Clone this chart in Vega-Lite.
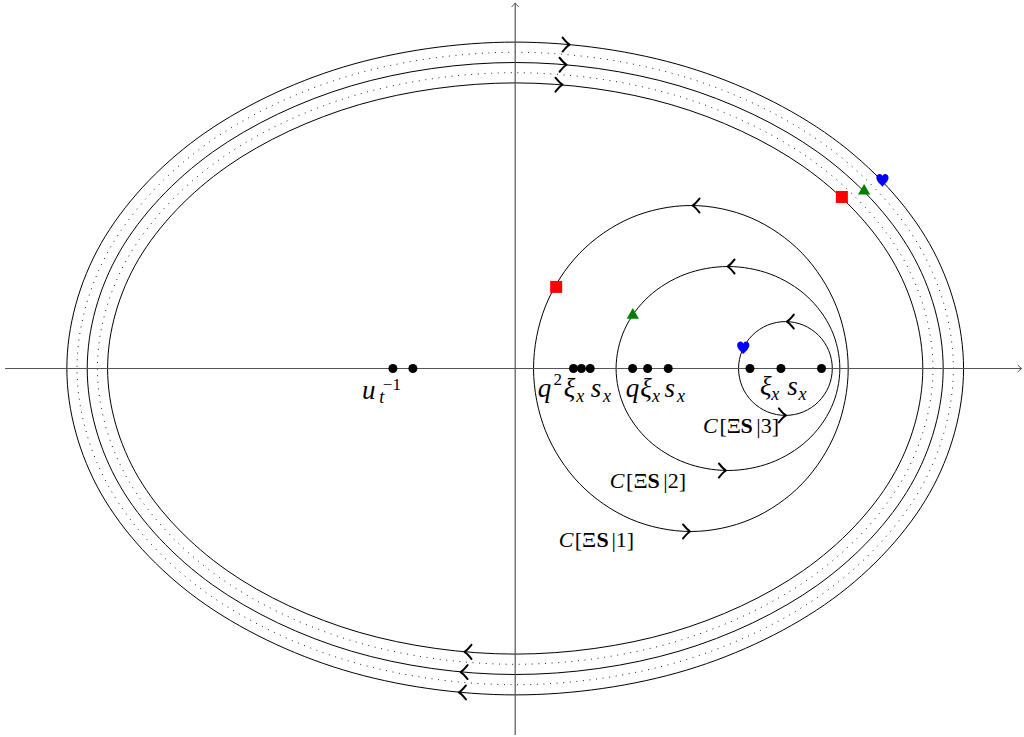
{
  "$schema": "https://vega.github.io/schema/vega-lite/v6.json",
  "width": 1024,
  "height": 737,
  "autosize": {"type": "fit", "contains": "padding"},
  "padding": 0,
  "background": "white",
  "config": {"view": {"stroke": null}},
  "datasets": {
    "contours": [
      {"c": "e1", "i": 0, "x": 20, "y": 0}, {"c": "e1", "i": 1, "x": 18.478, "y": 5.358}, {"c": "e1", "i": 2, "x": 14.142, "y": 9.9}, {"c": "e1", "i": 3, "x": 7.654, "y": 12.934},
      {"c": "e1", "i": 4, "x": 0, "y": 14}, {"c": "e1", "i": 5, "x": -7.654, "y": 12.934}, {"c": "e1", "i": 6, "x": -14.142, "y": 9.9}, {"c": "e1", "i": 7, "x": -18.478, "y": 5.358},
      {"c": "e1", "i": 8, "x": -20, "y": 0}, {"c": "e1", "i": 9, "x": -18.478, "y": -5.358}, {"c": "e1", "i": 10, "x": -14.142, "y": -9.9}, {"c": "e1", "i": 11, "x": -7.654, "y": -12.934},
      {"c": "e1", "i": 12, "x": 0, "y": -14}, {"c": "e1", "i": 13, "x": 7.654, "y": -12.934}, {"c": "e1", "i": 14, "x": 14.142, "y": -9.9}, {"c": "e1", "i": 15, "x": 18.478, "y": -5.358},
      {"c": "e2", "i": 0, "x": 21, "y": 0}, {"c": "e2", "i": 1, "x": 19.401, "y": 5.74}, {"c": "e2", "i": 2, "x": 14.849, "y": 10.607}, {"c": "e2", "i": 3, "x": 8.036, "y": 13.858},
      {"c": "e2", "i": 4, "x": 0, "y": 15}, {"c": "e2", "i": 5, "x": -8.036, "y": 13.858}, {"c": "e2", "i": 6, "x": -14.849, "y": 10.607}, {"c": "e2", "i": 7, "x": -19.401, "y": 5.74},
      {"c": "e2", "i": 8, "x": -21, "y": 0}, {"c": "e2", "i": 9, "x": -19.401, "y": -5.74}, {"c": "e2", "i": 10, "x": -14.849, "y": -10.607}, {"c": "e2", "i": 11, "x": -8.036, "y": -13.858},
      {"c": "e2", "i": 12, "x": 0, "y": -15}, {"c": "e2", "i": 13, "x": 8.036, "y": -13.858}, {"c": "e2", "i": 14, "x": 14.849, "y": -10.607}, {"c": "e2", "i": 15, "x": 19.401, "y": -5.74},
      {"c": "e3", "i": 0, "x": 22, "y": 0}, {"c": "e3", "i": 1, "x": 20.325, "y": 6.123}, {"c": "e3", "i": 2, "x": 15.556, "y": 11.314}, {"c": "e3", "i": 3, "x": 8.419, "y": 14.782},
      {"c": "e3", "i": 4, "x": 0, "y": 16}, {"c": "e3", "i": 5, "x": -8.419, "y": 14.782}, {"c": "e3", "i": 6, "x": -15.556, "y": 11.314}, {"c": "e3", "i": 7, "x": -20.325, "y": 6.123},
      {"c": "e3", "i": 8, "x": -22, "y": 0}, {"c": "e3", "i": 9, "x": -20.325, "y": -6.123}, {"c": "e3", "i": 10, "x": -15.556, "y": -11.314}, {"c": "e3", "i": 11, "x": -8.419, "y": -14.782},
      {"c": "e3", "i": 12, "x": 0, "y": -16}, {"c": "e3", "i": 13, "x": 8.419, "y": -14.782}, {"c": "e3", "i": 14, "x": 15.556, "y": -11.314}, {"c": "e3", "i": 15, "x": 20.325, "y": -6.123},
      {"c": "c1", "i": 0, "x": 16.34, "y": 0}, {"c": "c1", "i": 1, "x": 15.752, "y": 3.058}, {"c": "c1", "i": 2, "x": 14.079, "y": 5.65}, {"c": "c1", "i": 3, "x": 11.574, "y": 7.382},
      {"c": "c1", "i": 4, "x": 8.62, "y": 7.99}, {"c": "c1", "i": 5, "x": 5.666, "y": 7.382}, {"c": "c1", "i": 6, "x": 3.161, "y": 5.65}, {"c": "c1", "i": 7, "x": 1.488, "y": 3.058},
      {"c": "c1", "i": 8, "x": 0.9, "y": 0}, {"c": "c1", "i": 9, "x": 1.488, "y": -3.058}, {"c": "c1", "i": 10, "x": 3.161, "y": -5.65}, {"c": "c1", "i": 11, "x": 5.666, "y": -7.382},
      {"c": "c1", "i": 12, "x": 8.62, "y": -7.99}, {"c": "c1", "i": 13, "x": 11.574, "y": -7.382}, {"c": "c1", "i": 14, "x": 14.079, "y": -5.65}, {"c": "c1", "i": 15, "x": 15.752, "y": -3.058},
      {"c": "c2", "i": 0, "x": 15.93, "y": 0}, {"c": "c2", "i": 1, "x": 15.512, "y": 1.913}, {"c": "c2", "i": 2, "x": 14.322, "y": 3.536}, {"c": "c2", "i": 3, "x": 12.541, "y": 4.619},
      {"c": "c2", "i": 4, "x": 10.44, "y": 5}, {"c": "c2", "i": 5, "x": 8.339, "y": 4.619}, {"c": "c2", "i": 6, "x": 6.558, "y": 3.536}, {"c": "c2", "i": 7, "x": 5.368, "y": 1.913},
      {"c": "c2", "i": 8, "x": 4.95, "y": 0}, {"c": "c2", "i": 9, "x": 5.368, "y": -1.913}, {"c": "c2", "i": 10, "x": 6.558, "y": -3.536}, {"c": "c2", "i": 11, "x": 8.339, "y": -4.619},
      {"c": "c2", "i": 12, "x": 10.44, "y": -5}, {"c": "c2", "i": 13, "x": 12.541, "y": -4.619}, {"c": "c2", "i": 14, "x": 14.322, "y": -3.536}, {"c": "c2", "i": 15, "x": 15.512, "y": -1.913},
      {"c": "c3", "i": 0, "x": 15.56, "y": 0}, {"c": "c3", "i": 1, "x": 15.385, "y": 0.88}, {"c": "c3", "i": 2, "x": 14.886, "y": 1.626}, {"c": "c3", "i": 3, "x": 14.14, "y": 2.125},
      {"c": "c3", "i": 4, "x": 13.26, "y": 2.3}, {"c": "c3", "i": 5, "x": 12.38, "y": 2.125}, {"c": "c3", "i": 6, "x": 11.634, "y": 1.626}, {"c": "c3", "i": 7, "x": 11.135, "y": 0.88},
      {"c": "c3", "i": 8, "x": 10.96, "y": 0}, {"c": "c3", "i": 9, "x": 11.135, "y": -0.88}, {"c": "c3", "i": 10, "x": 11.634, "y": -1.626}, {"c": "c3", "i": 11, "x": 12.38, "y": -2.125},
      {"c": "c3", "i": 12, "x": 13.26, "y": -2.3}, {"c": "c3", "i": 13, "x": 14.14, "y": -2.125}, {"c": "c3", "i": 14, "x": 14.886, "y": -1.626}, {"c": "c3", "i": 15, "x": 15.385, "y": -0.88}
    ],
    "guides": [
      {"c": "d1", "i": 0, "x": 20.5, "y": 0}, {"c": "d1", "i": 1, "x": 18.94, "y": 5.549}, {"c": "d1", "i": 2, "x": 14.496, "y": 10.253}, {"c": "d1", "i": 3, "x": 7.845, "y": 13.396},
      {"c": "d1", "i": 4, "x": 0, "y": 14.5}, {"c": "d1", "i": 5, "x": -7.845, "y": 13.396}, {"c": "d1", "i": 6, "x": -14.496, "y": 10.253}, {"c": "d1", "i": 7, "x": -18.94, "y": 5.549},
      {"c": "d1", "i": 8, "x": -20.5, "y": 0}, {"c": "d1", "i": 9, "x": -18.94, "y": -5.549}, {"c": "d1", "i": 10, "x": -14.496, "y": -10.253}, {"c": "d1", "i": 11, "x": -7.845, "y": -13.396},
      {"c": "d1", "i": 12, "x": 0, "y": -14.5}, {"c": "d1", "i": 13, "x": 7.845, "y": -13.396}, {"c": "d1", "i": 14, "x": 14.496, "y": -10.253}, {"c": "d1", "i": 15, "x": 18.94, "y": -5.549},
      {"c": "d2", "i": 0, "x": 21.5, "y": 0}, {"c": "d2", "i": 1, "x": 19.863, "y": 5.932}, {"c": "d2", "i": 2, "x": 15.203, "y": 10.96}, {"c": "d2", "i": 3, "x": 8.228, "y": 14.32},
      {"c": "d2", "i": 4, "x": 0, "y": 15.5}, {"c": "d2", "i": 5, "x": -8.228, "y": 14.32}, {"c": "d2", "i": 6, "x": -15.203, "y": 10.96}, {"c": "d2", "i": 7, "x": -19.863, "y": 5.932},
      {"c": "d2", "i": 8, "x": -21.5, "y": 0}, {"c": "d2", "i": 9, "x": -19.863, "y": -5.932}, {"c": "d2", "i": 10, "x": -15.203, "y": -10.96}, {"c": "d2", "i": 11, "x": -8.228, "y": -14.32},
      {"c": "d2", "i": 12, "x": 0, "y": -15.5}, {"c": "d2", "i": 13, "x": 8.228, "y": -14.32}, {"c": "d2", "i": 14, "x": 15.203, "y": -10.96}, {"c": "d2", "i": 15, "x": 19.863, "y": -5.932}
    ],
    "axes": [
      {"x": -25.03, "x2": 24.85, "y": 0, "y2": 0},
      {"x": 0, "x2": 0, "y": -17.97, "y2": 17.92}
    ],
    "axisTipRight": [{"x": 24.85, "y": 0}],
    "axisTipUp": [{"x": 0, "y": 17.92}],
    "poles": [
      {"x": -6.0, "y": 0}, {"x": -5.02, "y": 0},
      {"x": 2.86, "y": 0}, {"x": 3.25, "y": 0}, {"x": 3.68, "y": 0},
      {"x": 5.76, "y": 0}, {"x": 6.5, "y": 0}, {"x": 7.51, "y": 0},
      {"x": 11.52, "y": 0}, {"x": 13.04, "y": 0}, {"x": 15.03, "y": 0}
    ],
    "arrowsRight": [
      {"x": 2.32, "y": 13.91}, {"x": 2.52, "y": 14.89}, {"x": 2.67, "y": 15.88},
      {"x": 8.58, "y": -7.99}, {"x": 10.34, "y": -5.0}, {"x": 13.28, "y": -2.3}
    ],
    "arrowsLeft": [
      {"x": -2.49, "y": -13.89}, {"x": -2.68, "y": -14.88}, {"x": -2.76, "y": -15.88},
      {"x": 8.7, "y": 7.99}, {"x": 10.42, "y": 5.0}, {"x": 13.33, "y": 2.3}
    ],
    "squares": [{"x": 16.03, "y": 8.41}, {"x": 2.01, "y": 4.0}],
    "triangles": [{"x": 17.12, "y": 8.79}, {"x": 5.77, "y": 2.7}],
    "hearts": [{"x": 18.02, "y": 9.23}, {"x": 11.19, "y": 1.02}],
    "mathMain": [
      {"x": -7.19, "y": -1.51, "t": "u"},
      {"x": 1.44, "y": -1.38, "t": "q"}, {"x": 2.66, "y": -1.38, "t": "ξ"}, {"x": 3.97, "y": -1.38, "t": "s"},
      {"x": 5.76, "y": -1.38, "t": "q"}, {"x": 6.42, "y": -1.38, "t": "ξ"}, {"x": 7.58, "y": -1.38, "t": "s"},
      {"x": 12.3, "y": -1.3, "t": "ξ"}, {"x": 13.61, "y": -1.3, "t": "s"}
    ],
    "mathSub": [
      {"x": -6.55, "y": -1.71, "t": "t"},
      {"x": 3.19, "y": -1.63, "t": "x"}, {"x": 4.51, "y": -1.63, "t": "x"},
      {"x": 6.91, "y": -1.63, "t": "x"}, {"x": 8.14, "y": -1.63, "t": "x"},
      {"x": 12.76, "y": -1.54, "t": "x"}, {"x": 14.1, "y": -1.54, "t": "x"}
    ],
    "mathSup": [
      {"x": -6.05, "y": -1.05, "t": "−1"},
      {"x": 2.09, "y": -0.81, "t": "2"}
    ],
    "capItalic": [
      {"x": 9.58, "y": -3.18, "t": "C"}, {"x": 5.0, "y": -5.87, "t": "C"}, {"x": 2.5, "y": -8.74, "t": "C"}
    ],
    "capOpen": [
      {"x": 10.02, "y": -3.18, "t": "[Ξ"}, {"x": 5.44, "y": -5.87, "t": "[Ξ"}, {"x": 2.92, "y": -8.74, "t": "[Ξ"}
    ],
    "capBold": [
      {"x": 11.35, "y": -3.18, "t": "S"}, {"x": 6.79, "y": -5.87, "t": "S"}, {"x": 4.29, "y": -8.74, "t": "S"}
    ],
    "capClose": [
      {"x": 11.83, "y": -3.18, "t": "|3]"}, {"x": 7.27, "y": -5.87, "t": "|2]"}, {"x": 4.72, "y": -8.74, "t": "|1]"}
    ]
  },
  "encoding": {
    "x": {"field": "x", "type": "quantitative", "scale": {"domain": [-25.28, 24.917], "nice": false, "zero": false}, "axis": null},
    "y": {"field": "y", "type": "quantitative", "scale": {"domain": [-18.064, 18.064], "nice": false, "zero": false}, "axis": null}
  },
  "layer": [
    {
      "data": {"name": "guides"},
      "mark": {"type": "line", "interpolate": "cardinal-closed", "color": "#222", "strokeWidth": 1, "strokeDash": [1, 5.6]},
      "encoding": {"detail": {"field": "c"}, "order": {"field": "i", "type": "quantitative"}}
    },
    {
      "data": {"name": "contours"},
      "mark": {"type": "line", "interpolate": "cardinal-closed", "color": "black", "strokeWidth": 1},
      "encoding": {"detail": {"field": "c"}, "order": {"field": "i", "type": "quantitative"}}
    },
    {
      "data": {"name": "axes"},
      "mark": {"type": "rule", "color": "#555", "strokeWidth": 1.2},
      "encoding": {"x2": {"field": "x2"}, "y2": {"field": "y2"}}
    },
    {
      "data": {"name": "axisTipRight"},
      "mark": {"type": "point", "filled": false, "color": "#555", "strokeWidth": 1, "size": 64, "opacity": 1,
        "shape": "M -1 -0.9 Q -0.3 -0.2 0 0 Q -0.3 0.2 -1 0.9"}
    },
    {
      "data": {"name": "axisTipUp"},
      "mark": {"type": "point", "filled": false, "color": "#555", "strokeWidth": 1, "size": 64, "opacity": 1,
        "shape": "M -0.9 1 Q -0.2 0.3 0 0 Q 0.2 0.3 0.9 1"}
    },
    {
      "data": {"name": "poles"},
      "mark": {"type": "point", "shape": "circle", "filled": true, "color": "black", "size": 81, "opacity": 1}
    },
    {
      "data": {"name": "arrowsRight"},
      "mark": {"type": "point", "filled": false, "color": "black", "strokeWidth": 2, "size": 196, "opacity": 1, "strokeCap": "round", "strokeJoin": "round",
        "shape": "M -1 -1 Q -0.35 -0.2 0 0 Q -0.35 0.2 -1 1"}
    },
    {
      "data": {"name": "arrowsLeft"},
      "mark": {"type": "point", "filled": false, "color": "black", "strokeWidth": 2, "size": 196, "opacity": 1, "strokeCap": "round", "strokeJoin": "round",
        "shape": "M 1 -1 Q 0.35 -0.2 0 0 Q 0.35 0.2 1 1"}
    },
    {
      "data": {"name": "squares"},
      "mark": {"type": "point", "shape": "square", "filled": true, "color": "#ff0000", "size": 144, "opacity": 1}
    },
    {
      "data": {"name": "triangles"},
      "mark": {"type": "point", "shape": "triangle-up", "filled": true, "color": "#008000", "size": 150, "opacity": 1}
    },
    {
      "data": {"name": "hearts"},
      "mark": {
        "type": "point", "filled": true, "color": "#0000ff", "size": 150, "opacity": 1,
        "shape": "M 0 1.05 C -0.3 0.65 -1 0.2 -1 -0.4 C -1 -0.8 -0.7 -1 -0.45 -1 C -0.2 -1 0 -0.8 0 -0.6 C 0 -0.8 0.2 -1 0.45 -1 C 0.7 -1 1 -0.8 1 -0.4 C 1 0.2 0.3 0.65 0 1.05 Z"
      }
    },
    {
      "data": {"name": "mathMain"},
      "mark": {"type": "text", "font": "Liberation Serif", "fontSize": 27, "fontStyle": "italic", "align": "center", "baseline": "alphabetic", "color": "black"},
      "encoding": {"text": {"field": "t"}}
    },
    {
      "data": {"name": "mathSub"},
      "mark": {"type": "text", "font": "Liberation Serif", "fontSize": 18, "fontStyle": "italic", "align": "center", "baseline": "alphabetic", "color": "black"},
      "encoding": {"text": {"field": "t"}}
    },
    {
      "data": {"name": "mathSup"},
      "mark": {"type": "text", "font": "Liberation Serif", "fontSize": 17, "align": "center", "baseline": "alphabetic", "color": "black"},
      "encoding": {"text": {"field": "t"}}
    },
    {
      "data": {"name": "capItalic"},
      "mark": {"type": "text", "font": "Liberation Serif", "fontSize": 22, "fontStyle": "italic", "align": "center", "baseline": "alphabetic", "color": "black"},
      "encoding": {"text": {"field": "t"}}
    },
    {
      "data": {"name": "capOpen"},
      "mark": {"type": "text", "font": "Liberation Serif", "fontSize": 22, "align": "left", "baseline": "alphabetic", "color": "black"},
      "encoding": {"text": {"field": "t"}}
    },
    {
      "data": {"name": "capBold"},
      "mark": {"type": "text", "font": "Liberation Serif", "fontSize": 22, "fontWeight": "bold", "align": "center", "baseline": "alphabetic", "color": "black"},
      "encoding": {"text": {"field": "t"}}
    },
    {
      "data": {"name": "capClose"},
      "mark": {"type": "text", "font": "Liberation Serif", "fontSize": 22, "align": "left", "baseline": "alphabetic", "color": "black"},
      "encoding": {"text": {"field": "t"}}
    }
  ]
}
